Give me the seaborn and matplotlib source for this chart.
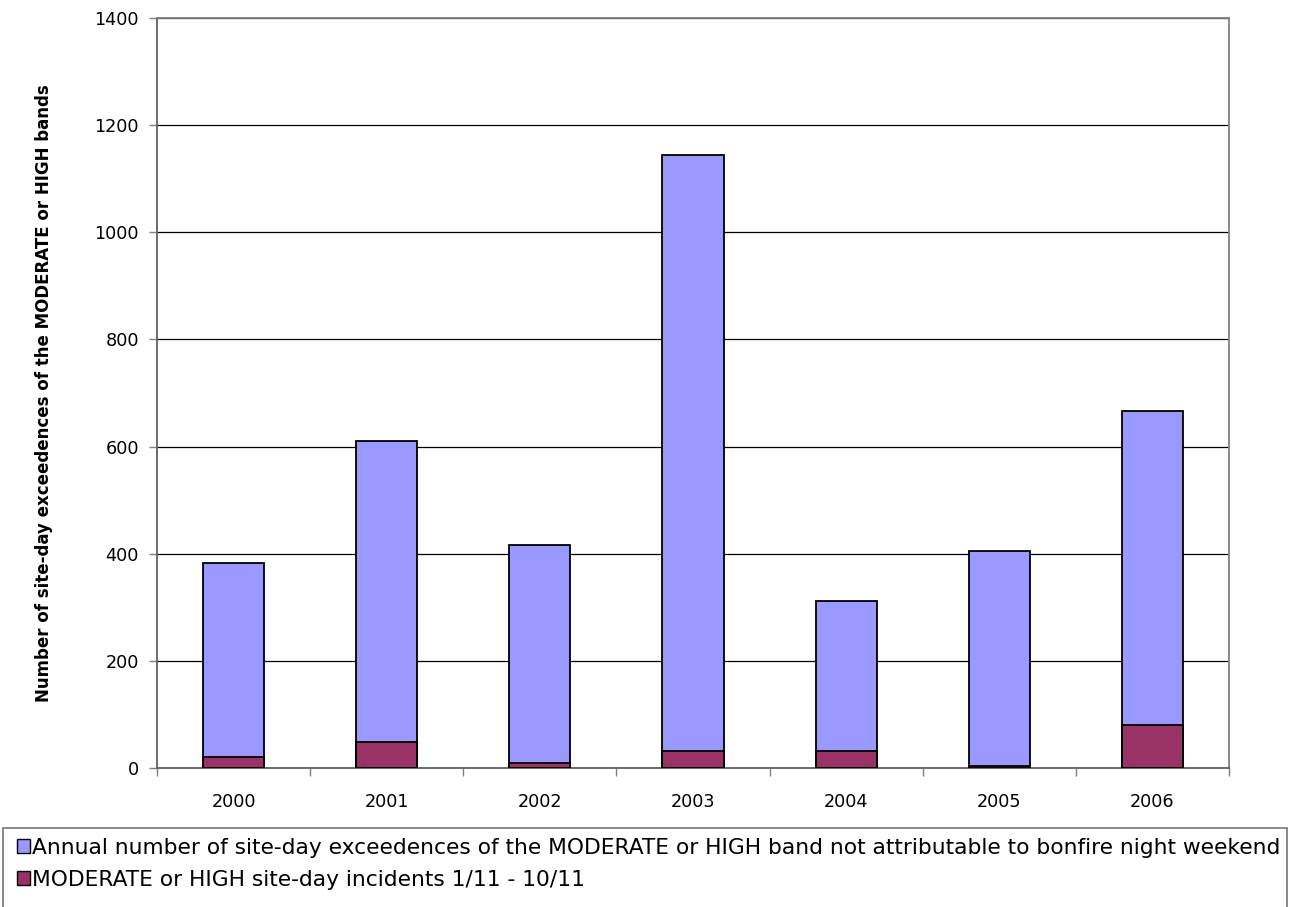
import matplotlib
matplotlib.use("Agg")
import matplotlib.pyplot as plt
from matplotlib.patches import Patch, Rectangle
from matplotlib.ticker import FixedLocator
import numpy as np
import pandas as pd
import seaborn as sns

years = ["2000", "2001", "2002", "2003", "2004", "2005", "2006"]
bonfire_incidents = [21, 49, 10, 32, 32, 4, 80]
other_exceedences = [361, 561, 407, 1112, 280, 402, 586]

label_other = ("Annual number of site-day exceedences of the MODERATE or HIGH band "
               "not attributable to bonfire night weekend")
label_bonfire = "MODERATE or HIGH site-day incidents 1/11 - 10/11"
y_label = "Number of site-day exceedences of the MODERATE or HIGH bands"

blue = "#9999FF"
plum = "#993366"

df = pd.DataFrame({
    "year": years,
    "bonfire": bonfire_incidents,
    "other": other_exceedences,
})
df["total"] = df["bonfire"] + df["other"]

sns.set_theme(style="white")
plt.rcParams["font.family"] = ["DejaVu Sans"]

W, H = 1291, 907
fig = plt.figure(figsize=(W / 100, H / 100), dpi=100)
ax = fig.add_axes([157 / W, 1 - 768 / H, (1229 - 157) / W, (768 - 18) / H])

# stacked bars: full height first, then the bonfire-period share on top of it
sns.barplot(data=df, x="year", y="total", color=blue, width=0.4,
            edgecolor="black", linewidth=1.3, saturation=1, ax=ax, zorder=3)
sns.barplot(data=df, x="year", y="bonfire", color=plum, width=0.4,
            edgecolor="black", linewidth=1.3, saturation=1, ax=ax, zorder=4)

ax.set_ylim(0, 1400)
ax.set_xlim(-0.5, len(years) - 0.5)
ax.set_yticks(np.arange(0, 1401, 200))
ax.yaxis.grid(True, color="black", linewidth=0.9)
ax.set_axisbelow(True)

ax.set_xlabel("")
ax.set_ylabel(y_label, fontsize=12.0, fontweight="bold", color="black")
ax.yaxis.set_label_coords((53 - 157) / (1229 - 157), 0.5)

# category boundary ticks on x, none at the labels themselves
ax.xaxis.set_minor_locator(FixedLocator(np.arange(-0.5, len(years), 1.0)))
ax.tick_params(axis="x", which="major", length=0, pad=18, labelsize=12.7, labelcolor="black")
ax.tick_params(axis="x", which="minor", length=6, width=1, color="#808080", direction="out", bottom=True)
ax.tick_params(axis="y", which="major", length=6, width=1, color="#808080", direction="out", left=True,
               labelsize=12.7, pad=7, labelcolor="black")

for side in ["top", "right", "bottom", "left"]:
    ax.spines[side].set_visible(True)
    ax.spines[side].set_color("#808080")
    ax.spines[side].set_linewidth(1.3)
ax.spines["left"].set_color("#606060")
ax.spines["bottom"].set_color("#606060")

# legend box runs past the lower edge of the figure
fig.patches.append(Rectangle((3 / W, -0.02), 1284 / W, 0.02 + 1 - 828 / H,
                             transform=fig.transFigure, facecolor="white",
                             edgecolor="#808080", linewidth=1.3, zorder=0))

handles = [
    Patch(facecolor=blue, edgecolor="black", linewidth=1, label=label_other),
    Patch(facecolor=plum, edgecolor="black", linewidth=1, label=label_bonfire),
]
leg = fig.legend(handles=handles, loc="upper left",
                 bbox_to_anchor=(17 / W, 1 - 838 / H),
                 ncol=1, frameon=False,
                 fontsize=15.65, handlelength=0.6, handleheight=0.6, handletextpad=0.1,
                 labelspacing=0.53, borderpad=0.0, borderaxespad=0.0)
for t in leg.get_texts():
    t.set_color("black")

fig.savefig("out.png", dpi=100)
